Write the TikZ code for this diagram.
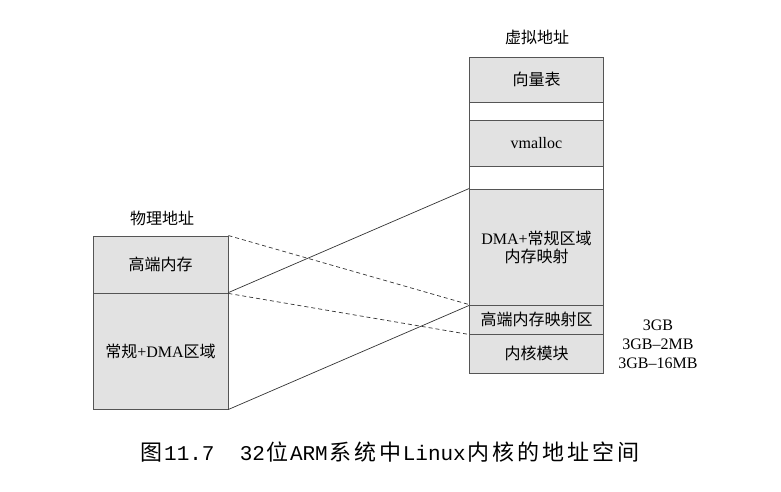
\documentclass[tikz,border=0pt]{standalone}
\usepackage{fontspec}
\setmainfont{Liberation Serif}
\newfontfamily\cjk{Noto Sans CJK SC}
\newfontfamily\capmono{Liberation Mono}
\newcommand{\cc}[1]{\makebox[25pt]{\fontsize{22}{25}\cjk #1}}
\newcommand{\cm}[1]{{\fontsize{21}{25}\capmono #1}}
\definecolor{boxfill}{HTML}{E2E2E2}
\definecolor{boxline}{HTML}{555555}
\begin{document}
\begin{tikzpicture}[x=1pt,y=-1pt,
  blk/.style={draw=boxline, fill=boxfill, line width=0.9pt, inner sep=0pt,
    align=center, font=\fontsize{16}{19}\selectfont},
  gap/.style={draw=boxline, fill=white, line width=0.9pt, inner sep=0pt},
  lbl/.style={inner sep=0pt, font=\fontsize{16}{19}\selectfont},
  link/.style={draw=black!80, line width=0.7pt},
  dlink/.style={draw=black!80, line width=0.7pt, dash pattern=on 4pt off 3pt}]
\useasboundingbox (0,0) rectangle (781,491);
% right column
\node[blk, minimum width=134pt, minimum height=45pt] (vec) at (536.5,79.5) {\cjk 向量表};
\node[gap, minimum width=134pt, minimum height=18pt] (g1) at (536.5,111) {};
\node[blk, minimum width=134pt, minimum height=46pt] (vm) at (536.5,143) {vmalloc};
\node[gap, minimum width=134pt, minimum height=23pt] (g2) at (536.5,177.5) {};
\node[blk, minimum width=134pt, minimum height=116pt] (dma) at (536.5,247) {DMA+{\cjk 常规区域}\\[-1pt]{\cjk 内存映射}};
\node[blk, minimum width=134pt, minimum height=29pt] (hmap) at (536.5,319.5) {\cjk 高端内存映射区};
\node[blk, minimum width=134pt, minimum height=39pt] (kmod) at (536.5,353.5) {\cjk 内核模块};
% left column
\node[blk, minimum width=135pt, minimum height=57pt] (high) at (160.5,264.5) {\cjk 高端内存};
\node[blk, minimum width=135pt, minimum height=116pt] (norm) at (160.5,351) {{\cjk 常规}+DMA{\cjk 区域}};
% titles
\node[lbl] (vt) at (537,37) {\cjk 虚拟地址};
\node[lbl] (pt) at (162,218) {\cjk 物理地址};
% address labels
\node[lbl] (a1) at (658,325) {3GB};
\node[lbl] (a2) at (658,344) {3GB–2MB};
\node[lbl] (a3) at (658,363) {3GB–16MB};
% connectors
\draw[link] (norm.north east) -- (dma.north west);
\draw[link] (norm.south east) -- (dma.south west);
\draw[dlink] (high.north east) -- (hmap.north west);
\draw[dlink] (high.south east) -- (hmap.south west);
% caption
\node[inner sep=0pt] (cap) at (390,452) {\cc{图}\cm{11.7\ \ 32}\cc{位}\cm{ARM}\cc{系}\cc{统}\cc{中}\cm{Linux}\cc{内}\cc{核}\cc{的}\cc{地}\cc{址}\cc{空}\cc{间}};
\end{tikzpicture}
\end{document}
